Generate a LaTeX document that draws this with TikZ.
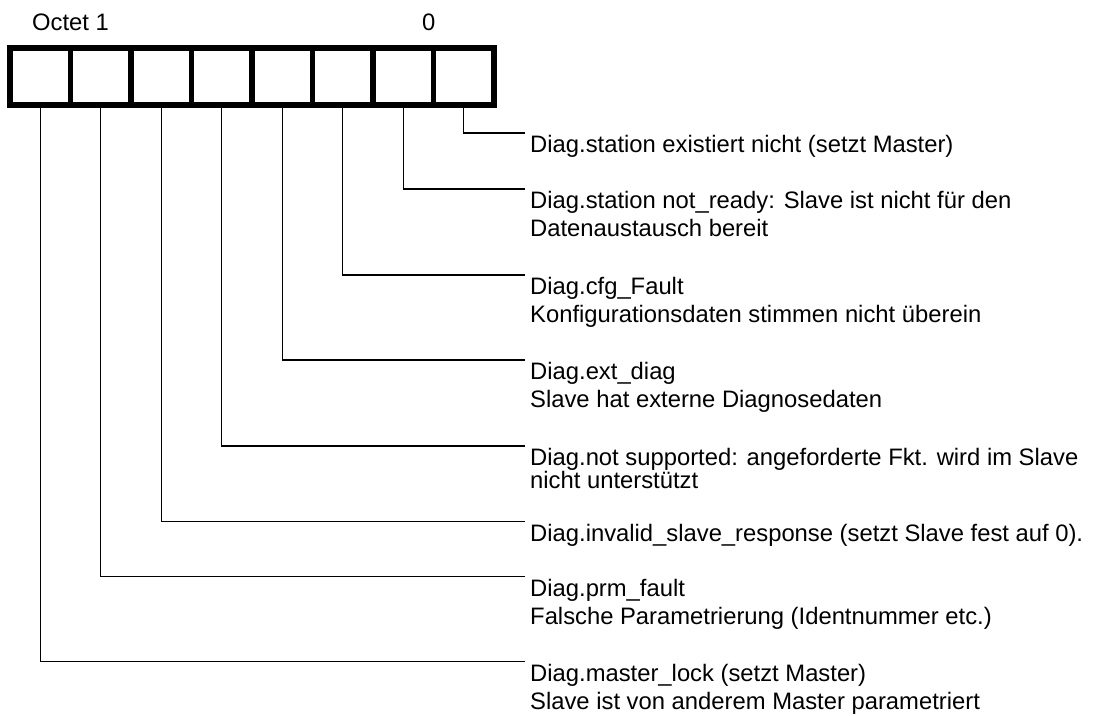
\documentclass[tikz,border=0pt]{standalone}
\usepackage{fontspec}
\setmainfont{Liberation Sans}
\begin{document}
\begin{tikzpicture}[x=1pt,y=-1pt,
  cell/.style={draw, line width=5.5pt, minimum width=60.5pt, minimum height=57pt, inner sep=0pt, outer sep=0pt},
  lab/.style={anchor=north west, inner sep=0pt, align=left, font=\fontsize{23.8}{28.5}\selectfont},
  tightlab/.style={lab, font=\fontsize{23.8}{20}\selectfont},
  toplab/.style={anchor=base west, inner sep=0pt, font=\fontsize{23.8}{28.5}\selectfont},
  conn/.style={line width=1.3pt}]
\useasboundingbox (0,0) rectangle (1094,715);
% bit cells (bit 7 left ... bit 0 right)
\node[cell] (b7) at (40.25,76.5) {};
\node[cell] (b6) at (100.75,76.5) {};
\node[cell] (b5) at (161.25,76.5) {};
\node[cell] (b4) at (221.75,76.5) {};
\node[cell] (b3) at (282.25,76.5) {};
\node[cell] (b2) at (342.75,76.5) {};
\node[cell] (b1) at (403.25,76.5) {};
\node[cell] (b0) at (463.75,76.5) {};
% header texts
\node[toplab] (oct) at (32,30) {Octet 1};
\node[toplab] (zero) at (422,30) {0};
% label texts
\node[lab] (l0) at (530,135) {Diag.station existiert nicht (setzt Master)};
\node[lab] (l1) at (530,191) {Diag.station not\_ready: Slave ist nicht für den\\Datenaustausch bereit};
\node[lab] (l2) at (530,277) {Diag.cfg\_Fault\\Konfigurationsdaten stimmen nicht überein};
\node[lab] (l3) at (530,362) {Diag.ext\_diag\\Slave hat externe Diagnosedaten};
\node[tightlab] (l4) at (530,448) {Diag.not supported: angeforderte Fkt. wird im Slave\\nicht unterstützt};
\node[lab] (l5) at (530,523.7) {Diag.invalid\_slave\_response (setzt Slave fest auf 0).};
\node[lab] (l6) at (530,578.7) {Diag.prm\_fault\\Falsche Parametrierung (Identnummer etc.)};
\node[lab] (l7) at (530,663.7) {Diag.master\_lock (setzt Master)\\Slave ist von anderem Master parametriert};
% connector ends
\coordinate (e0) at (525,133);
\coordinate (e1) at (525,189);
\coordinate (e2) at (525,275);
\coordinate (e3) at (525,360);
\coordinate (e4) at (525,446);
\coordinate (e5) at (525,521.7);
\coordinate (e6) at (525,576.7);
\coordinate (e7) at (525,661.7);
\foreach \i in {0,...,7} \draw[conn] (b\i.south) |- (e\i);
\end{tikzpicture}
\end{document}
